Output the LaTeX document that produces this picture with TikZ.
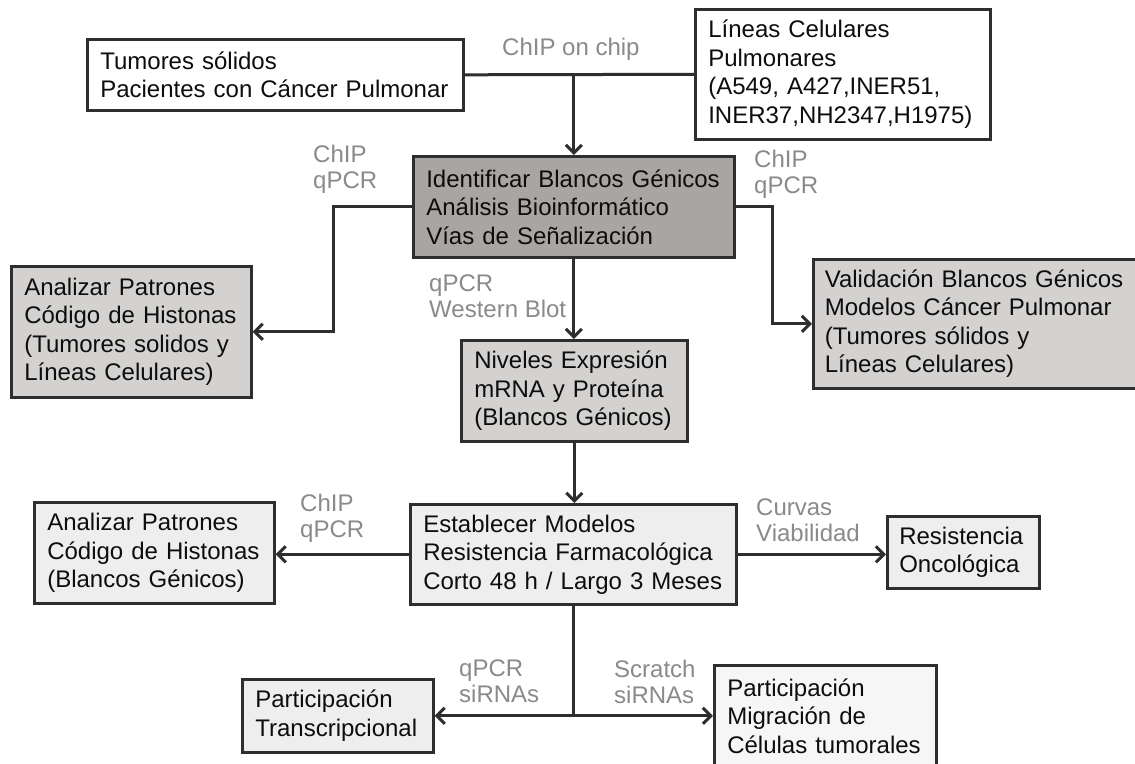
\documentclass[tikz,border=0pt]{standalone}
\usepackage{fontspec}
\setmainfont{Liberation Sans}
\usetikzlibrary{arrows.meta}
\definecolor{lc}{HTML}{2E2E2E}
\definecolor{lab}{HTML}{8A8A8A}
\definecolor{dk}{HTML}{A8A5A3}
\definecolor{md}{HTML}{D4D2D0}
\definecolor{lt}{HTML}{EEEEEE}
\definecolor{vl}{HTML}{F6F6F6}
\begin{document}
\begin{tikzpicture}[x=1pt,y=-1pt,
  box/.style={draw=lc, line width=2.6pt, anchor=north west, align=left, inner xsep=13pt, inner ysep=0pt, text=black!95, font=\fontsize{24}{28.5}\selectfont},
  lbl/.style={text=lab, anchor=north west, align=left, inner sep=0pt, font=\fontsize{24}{26}\selectfont},
  conn/.style={draw=lc, line width=3pt},
  arr/.style={conn, -{Straight Barb[length=8pt,width=16pt]}}]
\useasboundingbox[fill=white] (0,0) rectangle (1135,763);

% boxes
\node[box, fill=white, text width=350pt, minimum height=71pt] (tum) at (86,38) {Tumores sólidos\\Pacientes con Cáncer Pulmonar};
\node[box, fill=white, text width=269pt, minimum height=130pt] (lin) at (694,8) {Líneas Celulares\\Pulmonares\\(A549, A427,INER51,\\INER37,NH2347,H1975)};
\node[box, fill=dk, text width=295pt, minimum height=101pt] (cen) at (412,155) {Identificar Blancos Génicos\\Análisis Bioinformático\\Vías de Señalización};
\node[box, fill=md, text width=214pt, minimum height=131pt] (ana1) at (10,265) {Analizar Patrones\\Código de Histonas\\(Tumores solidos y\\Líneas Celulares)};
\node[box, fill=md, text width=300pt, inner xsep=11.5pt, minimum height=129pt] (val) at (812,258) {Validación Blancos Génicos\\Modelos Cáncer Pulmonar\\(Tumores sólidos y\\Líneas Celulares)};
\node[box, fill=md, text width=200pt, minimum height=101pt] (niv) at (460,339) {Niveles Expresión\\mRNA y Proteína\\(Blancos Génicos)};
\node[box, fill=lt, text width=300pt, minimum height=100pt] (est) at (409,503) {Establecer Modelos\\Resistencia Farmacológica\\Corto 48 h / Largo 3 Meses};
\node[box, fill=lt, text width=214pt, minimum height=101pt] (ana2) at (33,501) {Analizar Patrones\\Código de Histonas\\(Blancos Génicos)};
\node[box, fill=lt, text width=128pt, inner xsep=12pt, minimum height=72pt] (res) at (886,515) {Resistencia\\Oncológica};
\node[box, fill=lt, text width=165pt, minimum height=73pt] (par) at (241,678) {Participación\\Transcripcional};
\node[box, fill=vl, text width=196pt, minimum height=101pt] (mig) at (713,664) {Participación\\Migración de\\Células tumorales};

% labels
\node[lbl] (l1) at (502,37.5) {ChIP on chip};
\node[lbl] (l2) at (313,144.5) {ChIP\\qPCR};
\node[lbl] (l3) at (754,149.5) {ChIP\\qPCR};
\node[lbl] (l4) at (429,274.5) {qPCR\\Western Blot};
\node[lbl] (l5) at (300,493.5) {ChIP\\qPCR};
\node[lbl] (l6) at (756,498.5) {Curvas\\Viabilidad};
\node[lbl] (l7) at (459,659.5) {qPCR\\siRNAs};
\node[lbl] (l8) at (614,659.5) {Scratch\\siRNAs};

% connectors
\draw[conn] (tum.east) -- (lin.west);
\coordinate (j1) at (cen.north |- tum.east);
\draw[arr] (j1) -- (cen.north);
\draw[arr] (cen.west) -| ([xshift=81pt]ana1.east) -- (ana1.east);
\draw[arr] (cen.east) -| ([xshift=-40pt]val.west) -- (val.west);
\draw[arr] (cen.south) -- (cen.south |- niv.north);
\draw[arr] (niv.south) -- (niv.south |- est.north);
\draw[arr] (est.west) -- (est.west -| ana2.east);
\draw[arr] (est.east) -- (est.east -| res.west);
\coordinate (j2) at (est.south |- par.east);
\draw[conn] (est.south) -- (j2);
\draw[arr] (j2) -- (par.east);
\draw[arr] (j2) -- (j2 -| mig.west);
\end{tikzpicture}
\end{document}
